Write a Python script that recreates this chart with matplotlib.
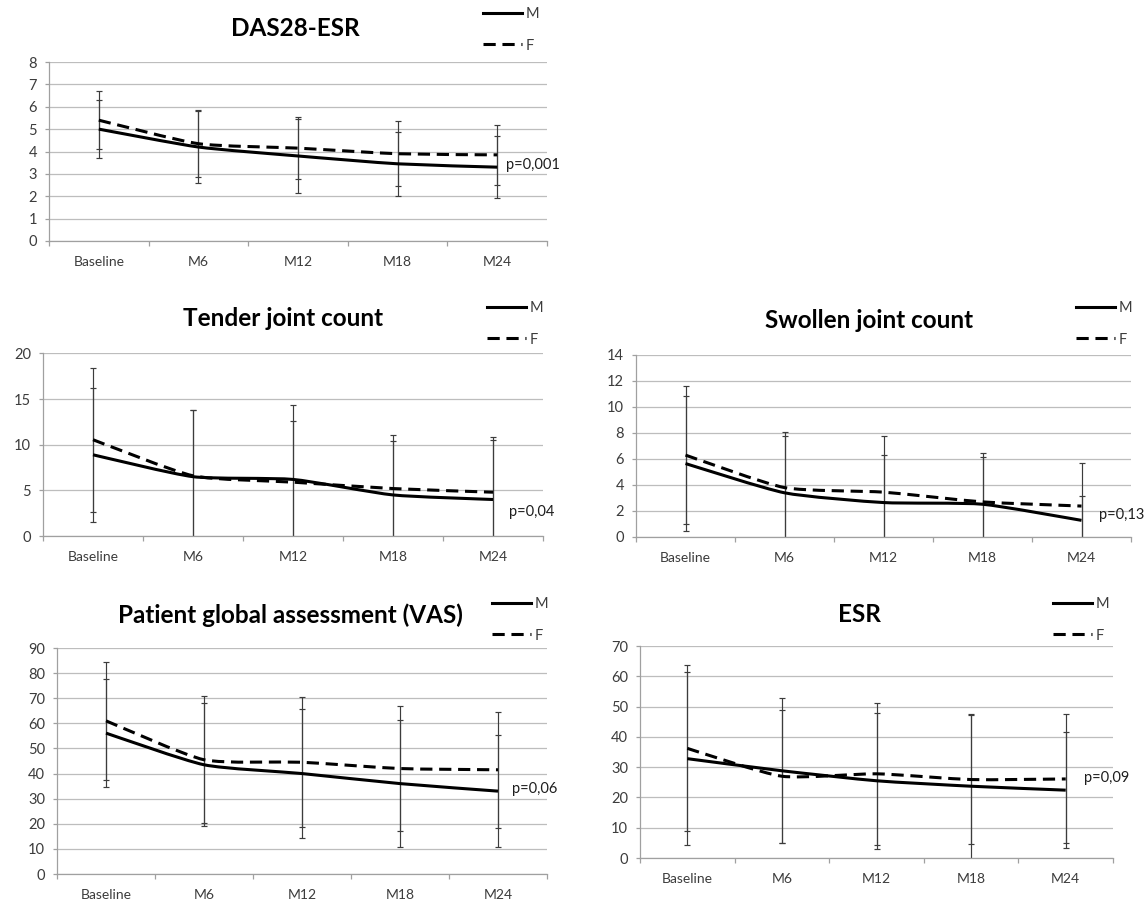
import numpy as np
import matplotlib
matplotlib.use("Agg")
import matplotlib.pyplot as plt
from matplotlib.path import Path
from matplotlib.patches import PathPatch
from matplotlib.lines import Line2D

plt.rcParams['font.family'] = ['Lato', 'DejaVu Sans']

categories = ['Baseline', 'M6', 'M12', 'M18', 'M24']

# DAS28-ESR
das_m = [5.0, 4.2, 3.8, 3.45, 3.3]
das_m_sd = [1.28, 1.6, 1.65, 1.43, 1.38]
das_f = [5.4, 4.35, 4.15, 3.9, 3.85]
das_f_sd = [1.3, 1.5, 1.4, 1.45, 1.33]

# Tender joint count
tjc_m = [8.9, 6.5, 6.2, 4.5, 4.0]
tjc_m_sd = [7.37, 7.3, 8.2, 5.9, 6.5]
tjc_f = [10.55, 6.6, 5.9, 5.2, 4.8]
tjc_f_sd = [7.9, 7.2, 6.7, 5.9, 6.1]

# Swollen joint count
sjc_m = [5.65, 3.4, 2.65, 2.52, 1.28]
sjc_m_sd = [5.17, 4.35, 3.65, 3.6, 1.86]
sjc_f = [6.3, 3.8, 3.45, 2.7, 2.38]
sjc_f_sd = [5.33, 4.25, 4.3, 3.8, 3.35]

# Patient global assessment (VAS)
vas_m = [56.1, 43.5, 40.0, 36.0, 33.0]
vas_m_sd = [21.4, 24.5, 25.8, 25.2, 22.2]
vas_f = [61.0, 45.5, 44.5, 42.0, 41.5]
vas_f_sd = [23.4, 25.3, 25.8, 25.0, 23.0]

# ESR
esr_m = [32.8, 28.8, 25.5, 23.7, 22.4]
esr_m_sd = [28.6, 24.0, 22.5, 24.0, 19.2]
esr_f = [36.2, 27.0, 27.8, 25.9, 26.1]
esr_f_sd = [27.4, 22.0, 23.5, 21.2, 21.3]

p_labels = ['p=0,001', 'p=0,04', 'p=0,13', 'p=0,06', 'p=0,09']

W, H = 1146, 900
fig = plt.figure(figsize=(W / 100, H / 100), dpi=100)
fig.patch.set_facecolor('white')

GRID = '#bdbdbd'
SPINE = '#a0a0a0'
TXT = '#3c3c3c'
ERR = '#3c3c3c'
LW = 2.2
DASH = (0, (4, 2.2))
SMOOTH = 1.0 / 10.0


def smooth_path(xs, ys):
    pts = np.column_stack([xs, ys]).astype(float)
    n = len(pts)
    verts = [pts[0]]
    codes = [Path.MOVETO]
    for i in range(n - 1):
        p0 = pts[i - 1] if i > 0 else pts[i]
        p1 = pts[i]
        p2 = pts[i + 1]
        p3 = pts[i + 2] if i + 2 < n else pts[i + 1]
        c1 = p1 + (p2 - p0) * SMOOTH
        c2 = p2 - (p3 - p1) * SMOOTH
        verts += [c1, c2, p2]
        codes += [Path.CURVE4] * 3
    return Path(verts, codes)


panels = [
    # title, m, msd, f, fsd, ymax, ystep, axes px (l, r, t, b), title px (cx, cy), legend px (x, top), p (x, y)
    ('DAS28-ESR', das_m, das_m_sd, das_f, das_f_sd, 8, 1,
     (49, 547, 62, 241), (295, 29), (483, 7), (4.09, 3.4)),
    ('Tender joint count', tjc_m, tjc_m_sd, tjc_f, tjc_f_sd, 20, 5,
     (43, 543, 353.5, 536), (283, 319), (487, 301), (4.16, 2.6)),
    ('Swollen joint count', sjc_m, sjc_m_sd, sjc_f, sjc_f_sd, 14, 2,
     (636, 1131, 355, 537), (869, 321), (1076, 301), (4.18, 1.7)),
    ('Patient global assessment (VAS)', vas_m, vas_m_sd, vas_f, vas_f_sd, 90, 10,
     (57, 547, 648, 874), (290, 615), (492, 597), (4.14, 33.8)),
    ('ESR', esr_m, esr_m_sd, esr_f, esr_f_sd, 70, 10,
     (640, 1113, 646, 858), (859, 615), (1053, 597), (4.19, 26.4)),
]

x = np.arange(len(categories))

for k, (title, m, msd, f, fsd, ymax, ystep, apx, tpx, lpx, ppos) in enumerate(panels):
    l, r, t, b = apx
    ax = fig.add_axes([l / W, 1 - b / H, (r - l) / W, (b - t) / H])
    ax.set_xlim(-0.5, len(categories) - 0.5)
    ax.set_ylim(0, ymax)
    ax.set_yticks(np.arange(0, ymax + ystep / 2, ystep))
    ax.set_axisbelow(True)
    ax.yaxis.grid(True, color=GRID, lw=0.9)
    for s in ('top', 'right'):
        ax.spines[s].set_visible(False)
    for s in ('left', 'bottom'):
        ax.spines[s].set_color(SPINE)
        ax.spines[s].set_linewidth(0.9)
    # category boundaries as major ticks, labels on minor ticks at centres
    ax.set_xticks(np.arange(-0.5, len(categories), 1.0))
    ax.set_xticklabels([])
    ax.set_xticks(x, minor=True)
    ax.set_xticklabels(categories, minor=True)
    ax.tick_params(axis='x', which='major', length=3.8, width=0.9, color=SPINE, direction='out')
    ax.tick_params(axis='x', which='minor', length=0, pad=10.5, labelsize=10, labelcolor=TXT)
    ax.tick_params(axis='y', length=3, width=0.9, color=SPINE, pad=5.5, labelsize=10.5, labelcolor=TXT)

    ax.errorbar(x, m, yerr=msd, fmt='none', ecolor=ERR, elinewidth=0.85,
                capsize=2.1, capthick=0.85, zorder=2)
    ax.errorbar(x, f, yerr=fsd, fmt='none', ecolor=ERR, elinewidth=0.85,
                capsize=2.1, capthick=0.85, zorder=2)

    ax.add_patch(PathPatch(smooth_path(x, m), fill=False, edgecolor='black',
                           lw=LW, capstyle='butt', joinstyle='round', zorder=3))
    ax.add_patch(PathPatch(smooth_path(x, f), fill=False, edgecolor='black',
                           lw=LW, linestyle=DASH, capstyle='butt', zorder=4))

    ax.text(ppos[0], ppos[1], p_labels[k], ha='left', va='center',
            fontsize=10.5, color='#1e1e1e', clip_on=False)

    fig.text(tpx[0] / W, 1 - tpx[1] / H, title, ha='center', va='center',
             fontsize=17.5, fontweight='bold', color='black')

    handles = [Line2D([], [], color='black', lw=LW),
               Line2D([], [], color='black', lw=LW, linestyle=DASH)]
    ax.legend(handles, ['M', 'F'], loc='upper left',
              bbox_to_anchor=(lpx[0] / W, 1 - lpx[1] / H),
              bbox_transform=fig.transFigure, frameon=False,
              fontsize=10.5, labelcolor=TXT, handlelength=2.7,
              handletextpad=0.25, labelspacing=1.2, borderpad=0,
              borderaxespad=0)

fig.savefig('out.png', dpi=100, facecolor='white')
